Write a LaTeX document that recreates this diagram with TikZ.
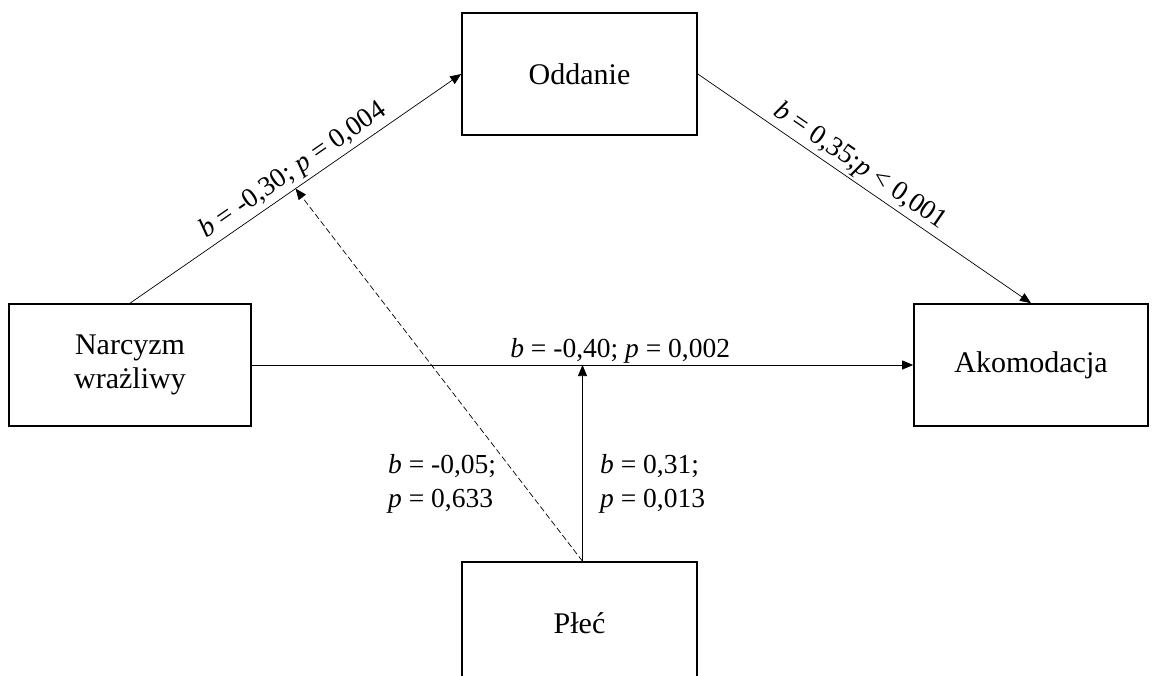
\documentclass[tikz,border=0pt]{standalone}
\usepackage{fontspec}
\setmainfont{Liberation Serif}
\usetikzlibrary{arrows.meta}
\begin{document}
\begin{tikzpicture}[x=1pt,y=-1pt,
  box/.style={draw, line width=1.6pt, minimum height=122pt, inner sep=0pt, align=center, font=\fontsize{30}{34}\selectfont},
  conn/.style={line width=0.7pt, -{Triangle[length=11pt,width=9pt]}},
  lab/.style={font=\fontsize{27.5}{33}\selectfont, inner sep=3pt},
  sidelab/.style={font=\fontsize{27.5}{34}\selectfont, inner sep=0pt, align=left, anchor=west}]
\useasboundingbox (0,0) rectangle (1157,676);
\clip (0,0) rectangle (1157,676);
\node[box, minimum width=242pt] (narc) at (130,365) {Narcyzm\\wrażliwy};
\node[box, minimum width=235pt] (odd) at (579.5,74) {Oddanie};
\node[box, minimum width=234pt] (ako) at (1031,365) {Akomodacja};
\node[box, minimum width=235pt] (plec) at (579.5,623) {Płeć};
\draw[conn] (narc.north) -- coordinate[pos=0.5] (mid) node[lab, pos=0.52, sloped, above] (l1) {\textit{b} = -0,30; \textit{p} = 0,004} (odd.west);
\draw[conn] (odd.east) -- node[lab, pos=0.46, sloped, above] (l2) {\textit{b} = 0,35;\textit{p} < 0,001} (ako.north);
\draw[conn] (narc.east) -- node[lab, pos=0.557, above, inner sep=1pt] (l3) {\textit{b} = -0,40; \textit{p} = 0,002} (ako.west);
\draw[conn] ([xshift=3pt]plec.north) -- ([xshift=3pt]plec.north |- narc.east);
\draw[conn, dashed, dash pattern=on 6pt off 3pt] ([xshift=3pt]plec.north) -- (mid);
\node[sidelab] (l4) at (388,484) {\textit{b} = -0,05;\\\textit{p} = 0,633};
\node[sidelab] (l5) at (600,484) {\textit{b} = 0,31;\\\textit{p} = 0,013};
\end{tikzpicture}
\end{document}
